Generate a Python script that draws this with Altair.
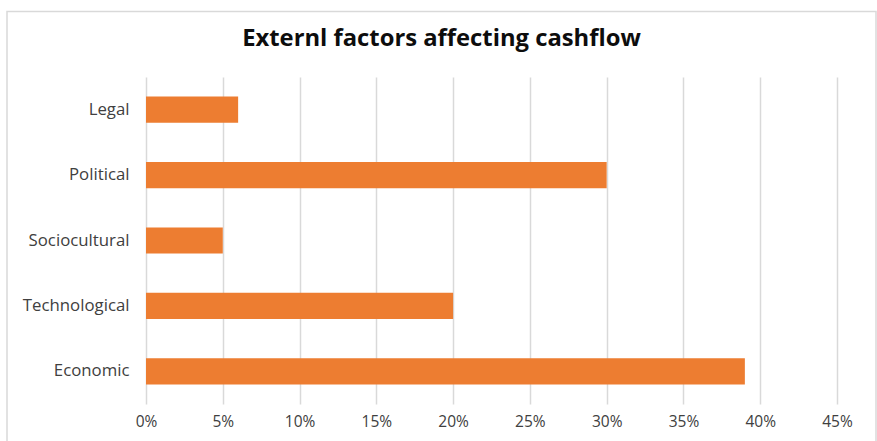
import altair as alt
import pandas as pd

categories = ["Legal", "Political", "Sociocultural", "Technological", "Economic"]
values = [0.06, 0.30, 0.05, 0.20, 0.39]
tick_values = [0, 0.05, 0.10, 0.15, 0.20, 0.25, 0.30, 0.35, 0.40, 0.45]

df = pd.DataFrame({"factor": categories, "share": values})

FONT = "Open Sans"
LABEL_COLOR = "#404040"
GRID = "#d9d9d9"

bars = alt.Chart(df).mark_bar(color="#ED7D31").encode(
    y=alt.Y(
        "factor:N",
        sort=categories,
        title=None,
        scale=alt.Scale(paddingInner=0.6, paddingOuter=0.3),
        axis=alt.Axis(
            domain=False, ticks=False, grid=False,
            labelFont=FONT, labelFontSize=16.8, labelColor=LABEL_COLOR,
            labelPadding=17,
        ),
    ),
    x=alt.X(
        "share:Q",
        title=None,
        scale=alt.Scale(domain=[0, 0.45], nice=False),
        axis=alt.Axis(
            values=tick_values, format=".0%",
            domain=False, ticks=False, grid=True, labelFlush=False,
            gridColor=GRID, gridWidth=1.5,
            labelFont=FONT, labelFontSize=15.5, labelColor=LABEL_COLOR,
            labelPadding=10,
        ),
    ),
)

border = alt.Chart(pd.DataFrame({"k": [0]})).mark_rect(
    fill=None, stroke=GRID, strokeWidth=1.5
).encode(
    x=alt.value(-139), x2=alt.value(730),
    y=alt.value(-65.5), y2=alt.value(380),
)

chart = alt.layer(border, bars).properties(
    width=691,
    height=327,
    padding={"left": 146, "top": 77, "right": 40, "bottom": 37},
    autosize=alt.AutoSizeParams(type="none"),
    title=alt.TitleParams(
        "Externl factors affecting cashflow",
        font=FONT, fontSize=23.8, fontWeight="bold", color="#0d0d0d",
        anchor="middle", dx=-50, offset=0, baseline="alphabetic", dy=59,
    ),
).configure_view(stroke=None)

chart.save("out.html", embed_options={"renderer": "svg", "actions": False})
